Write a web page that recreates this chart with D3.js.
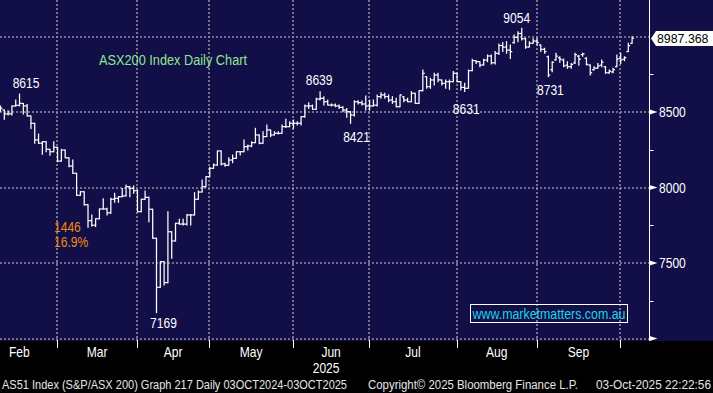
<!DOCTYPE html>
<html><head><meta charset="utf-8">
<script src="https://cdn.jsdelivr.net/npm/d3@7"></script>
<style>html,body{margin:0;padding:0;background:#000;overflow:hidden}</style>
</head><body><svg id="c" width="713" height="393"></svg>
<script>
// ---- data ----
const monthNames = ["Feb","Mar","Apr","May","Jun","Jul","Aug","Sep","Oct"];
const monthDays  = [16, 21, 19, 22, 20, 23, 21, 22, 3];   // trading days shown per month
const hiddenFebDays = 4;                                  // Feb days before the visible window
const yearLabel = "2025";
const yGrid = [7000, 7500, 8000, 8500, 9000];
const yTickLabels = [7500, 8000, 8500];
const yMinorTicks = [7250, 7750, 8250, 8750];
const lastPrice = "8987.368";

const opens = [8530,8513,8487,8487,8540,8544,8557,8540,8474,8425,8315,8293,8303,8253,8237,8266,
 8175,8248,8197,8142,8094,7948,7972,7886,7780,7750,7793,7858,7858,7832,7922,7928,7939,7944,8005,7994,7979,
 7840,7922,7935,7856,7664,7339,7509,7370,7707,7646,7763,7758,7758,7818,7818,7922,7970,8005,8072,
 8127,8149,8242,8156,8147,8182,8193,8237,8237,8270,8275,8297,8348,8293,8337,8381,8348,8359,8359,8403,8403,8425,
 8425,8425,8469,8540,8540,8518,8586,8591,8568,8546,8546,8540,8531,8513,8502,8480,8568,8562,8553,8540,
 8540,8545,8602,8613,8602,8579,8568,8535,8600,8579,8568,8624,8557,8641,8734,8668,8712,8745,8712,8690,8701,8701,8756,
 8701,8663,8657,8774,8840,8833,8811,8844,8871,8826,8889,8940,8930,8910,8960,8995,9020,8985,8930,8955,8970,
 8944,8915,8866,8780,8845,8860,8844,8810,8800,8825,8870,8880,8855,8811,8780,8790,8810,8800,8760,8765,8800,8855,
 8850,8900,8955];
const highs = [8540,8513,8509,8540,8579,8619,8557,8550,8474,8425,8354,8303,8303,8253,8303,8266,
 8253,8248,8197,8182,8094,7972,7972,7886,7818,7793,7858,7926,7862,7928,7962,7939,7994,8017,8005,8010,7983,
 7922,7977,7935,7856,7664,7509,7509,7840,7707,7763,7789,7789,7822,7822,7966,7977,8050,8072,8134,
 8156,8242,8242,8160,8197,8215,8237,8237,8315,8281,8303,8392,8348,8370,8414,8381,8370,8370,8414,8452,8436,8447,
 8436,8469,8546,8562,8546,8591,8634,8601,8579,8553,8553,8546,8535,8524,8502,8575,8575,8573,8606,8579,
 8579,8613,8628,8624,8613,8602,8591,8613,8602,8591,8635,8624,8641,8778,8734,8723,8756,8756,8712,8712,8712,8768,8756,
 8701,8690,8778,8849,8840,8833,8849,8878,8878,8900,8950,8960,8966,8944,9010,9032,9054,8988,8966,8985,8988,
 8944,8922,8870,8833,8889,8866,8850,8833,8822,8889,8875,8889,8860,8811,8800,8822,8844,8800,8778,8790,8878,8889,
 8866,8955,8999];
const lows = [8505,8452,8480,8480,8540,8540,8487,8474,8390,8293,8293,8220,8237,8213,8237,8171,
 8175,8197,8138,8094,7948,7948,7884,7736,7745,7741,7793,7858,7818,7829,7902,7902,7939,7944,7939,7962,7840,
 7840,7922,7774,7664,7171,7339,7354,7370,7531,7646,7756,7752,7752,7752,7818,7922,7970,8005,8072,
 8127,8147,8149,8140,8147,8164,8193,8215,8237,8248,8270,8297,8290,8293,8337,8337,8348,8354,8359,8398,8403,8392,
 8414,8414,8465,8524,8518,8518,8579,8546,8546,8540,8535,8524,8502,8465,8425,8474,8553,8546,8513,8513,
 8540,8540,8591,8591,8568,8557,8535,8535,8568,8568,8568,8557,8557,8641,8657,8657,8679,8701,8679,8657,8650,8701,8701,
 8646,8635,8657,8774,8822,8800,8811,8833,8818,8818,8880,8900,8889,8855,8955,8966,8977,8922,8930,8955,8944,
 8900,8889,8734,8767,8844,8830,8800,8789,8789,8822,8810,8870,8811,8745,8778,8789,8800,8756,8756,8760,8800,8822,
 8840,8900,8955];
const closes = [8525,8487,8487,8540,8544,8557,8540,8474,8425,8315,8293,8303,8253,8237,8266,8175,
 8248,8197,8142,8094,7948,7972,7886,7780,7750,7793,7858,7858,7832,7922,7928,7939,7944,8005,7994,7979,7840,
 7922,7935,7856,7664,7339,7509,7370,7707,7646,7763,7758,7758,7818,7818,7922,7970,8005,8072,8127,
 8149,8242,8156,8147,8182,8193,8237,8237,8270,8275,8297,8348,8293,8337,8381,8348,8359,8359,8403,8403,8425,8425,
 8425,8469,8540,8540,8518,8586,8591,8568,8546,8546,8540,8531,8513,8502,8480,8568,8562,8553,8540,8540,
 8545,8602,8613,8602,8579,8568,8535,8613,8579,8568,8624,8557,8641,8756,8668,8712,8745,8712,8690,8701,8701,8756,8701,
 8663,8657,8774,8840,8833,8811,8844,8871,8826,8889,8940,8930,8910,8900,8995,9020,8985,8930,8955,8970,8960,
 8915,8900,8745,8830,8870,8850,8805,8800,8815,8880,8850,8885,8815,8760,8790,8805,8830,8760,8770,8780,8850,8845,
 8860,8940,8987];

// annotations
const peakLabels = ["8615","7169","8639","8421","8631","9054","8731"];
const peakBarIndex = [5, 41, 84, 92, 122, 137, 144];
const peakIsHigh = [true, false, true, false, false, true, false];
const dropLabels = ["1446", "16.9%"];
const titleText = "ASX200 Index Daily Chart";
const watermark = "www.marketmatters.com.au";
const footerTexts = ["AS51 Index (S&P/ASX 200) Graph 217 Daily 03OCT2024-03OCT2025",
                     "Copyright\u00A9 2025 Bloomberg Finance L.P.",
                     "03-Oct-2025 22:22:56"];

// ---- drawing ----
const W = 713, H = 393, plotBottom = 341, axisX = 649.5;
const svg = d3.select("#c");
const FONT = "'Liberation Sans', Arial, sans-serif";
const NARROW = 0.83;
function narrow(sel, factor) {
  sel.each(function() {
    const w = this.getComputedTextLength();
    d3.select(this).attr("textLength", w * (factor || NARROW)).attr("lengthAdjust", "spacingAndGlyphs");
  });
  return sel;
}
function fit(sel, len) {
  return sel.attr("textLength", len).attr("lengthAdjust", "spacingAndGlyphs");
}

const n = closes.length;
const x = d3.scaleLinear().domain([0, n - 1]).range([0.5, 632.1]);
const y = d3.scaleLinear().domain([7000, 9000]).range([338.5, 36.5]);

svg.append("rect").attr("x",0).attr("y",0).attr("width",W).attr("height",plotBottom).attr("fill","#110e48");
svg.append("rect").attr("x",0).attr("y",plotBottom).attr("width",W).attr("height",H-plotBottom).attr("fill","#000");

// month boundaries
const cum = d3.cumsum(monthDays);
const boundaries = [x(-hiddenFebDays - 1)];
cum.slice(0, -1).forEach(c => boundaries.push(x(c - 1) - 0.4));
boundaries.push(x(n - 1 + 19));
const gridColor = "#8e8e9c";

const g = svg.append("g");
g.selectAll("line.hg").data(yGrid).join("line")
  .attr("x1",0).attr("x2",axisX).attr("y1",d=>Math.round(y(d))).attr("y2",d=>Math.round(y(d)))
  .attr("stroke",gridColor).attr("stroke-width",1.6).attr("stroke-dasharray","2,2");
g.selectAll("line.vg").data(boundaries.slice(1, -1)).join("line")
  .attr("x1",d=>Math.round(d)).attr("x2",d=>Math.round(d)).attr("y1",0).attr("y2",plotBottom)
  .attr("stroke",gridColor).attr("stroke-width",1.6).attr("stroke-dasharray","2,2");

// OHLC bars
const tick = 1.9;
const bars = svg.append("g").attr("stroke","#fff").attr("stroke-width",1.25).attr("fill","none");
d3.range(n).forEach(i => {
  const cx = x(i);
  bars.append("line").attr("x1",cx).attr("x2",cx).attr("y1",y(highs[i])-0.5).attr("y2",y(lows[i])+0.5);
  bars.append("line").attr("x1",cx-tick).attr("x2",cx).attr("y1",y(opens[i])).attr("y2",y(opens[i]));
  bars.append("line").attr("x1",cx).attr("x2",cx+tick).attr("y1",y(closes[i])).attr("y2",y(closes[i]));
});

// right axis
svg.append("line").attr("x1",axisX).attr("x2",axisX).attr("y1",0).attr("y2",plotBottom)
  .attr("stroke","#fff").attr("stroke-width",1);
svg.selectAll("path.tri").data(yGrid.slice(0,4)).join("path")
  .attr("d", d => { const yy = y(d); return `M${axisX},${yy-2.5}L${axisX+8},${yy}L${axisX},${yy+2.5}Z`; })
  .attr("fill","#fff");
svg.selectAll("line.minor").data(yMinorTicks).join("line")
  .attr("x1",axisX).attr("x2",axisX+4).attr("y1",d=>Math.round(y(d))+0.5).attr("y2",d=>Math.round(y(d))+0.5)
  .attr("stroke","#fff").attr("stroke-width",1);
narrow(svg.selectAll("text.yl").data(yTickLabels).join("text")
  .attr("x",659).attr("y",d=>y(d)+5.2).text(d=>d)
  .attr("fill","#fff").attr("font-family",FONT).attr("font-size",14.5));

// last price flag
const yp = y(+lastPrice);
svg.append("path").attr("d",`M651,${yp}L656,${yp-7.5}L713,${yp-7.5}L713,${yp+7.5}L656,${yp+7.5}Z`).attr("fill","#fff");
fit(svg.append("text").attr("x",657).attr("y",yp+4.9).text(lastPrice)
  .attr("fill","#000").attr("font-family",FONT).attr("font-size",13.2), 51.5);

// bottom axis ticks and month labels
svg.selectAll("line.bt").data(boundaries.slice(1,-1)).join("line")
  .attr("x1",d=>Math.round(d)+0.5).attr("x2",d=>Math.round(d)+0.5).attr("y1",plotBottom-1).attr("y2",plotBottom+7)
  .attr("stroke","#fff").attr("stroke-width",1);
narrow(svg.selectAll("text.ml").data(monthNames.slice(0,8)).join("text")
  .attr("x",(d,i)=>(boundaries[i]+boundaries[i+1])/2).attr("y",357)
  .attr("text-anchor","middle").text(d=>d)
  .attr("fill","#fff").attr("font-family",FONT).attr("font-size",14.5));
narrow(svg.append("text").attr("x",(boundaries[4]+boundaries[5])/2 - 5).attr("y",373).attr("text-anchor","middle")
  .text(yearLabel).attr("fill","#fff").attr("font-family",FONT).attr("font-size",14.5));

// peak/trough labels (offsets from the bar's high/low)
const labDx = [6.5, 7, -1, 6, 1.5, -5, 2];
const labDy = [-6, 15.6, -6.7, 19, 22.3, -5.3, 18.8];
peakLabels.forEach((t,k) => {
  const i = peakBarIndex[k];
  const base = peakIsHigh[k] ? y(highs[i]) : y(lows[i]);
  narrow(svg.append("text").attr("x",x(i) + labDx[k]).attr("y",base + labDy[k])
    .attr("text-anchor","middle").text(t)
    .attr("fill","#fff").attr("font-family",FONT).attr("font-size",14.5));
});
dropLabels.forEach((t,k) => {
  narrow(svg.append("text").attr("x",54).attr("y",231.7 + k*15.5).text(t)
    .attr("fill","#f28a10").attr("font-family",FONT).attr("font-size",14.5));
});

// title
fit(svg.append("text").attr("x",99).attr("y",65).text(titleText)
  .attr("fill","#8fe88f").attr("font-family",FONT).attr("font-size",14), 148);

// watermark
svg.append("rect").attr("x",470.5).attr("y",304.5).attr("width",157).attr("height",18)
  .attr("fill","none").attr("stroke","#fff").attr("stroke-width",1);
fit(svg.append("text").attr("x",472.5).attr("y",318.5).text(watermark)
  .attr("fill","#1fd3e6").attr("font-family",FONT).attr("font-size",14), 153);

// footer
const footX = [2, 368, 596];
const footLen = [345, 210, 115];
footerTexts.forEach((t,k) => {
  fit(svg.append("text").attr("x",footX[k]).attr("y",389).text(t)
    .attr("fill","#e6e6e6").attr("font-family",FONT).attr("font-size",12), footLen[k]);
});
</script></body></html>
